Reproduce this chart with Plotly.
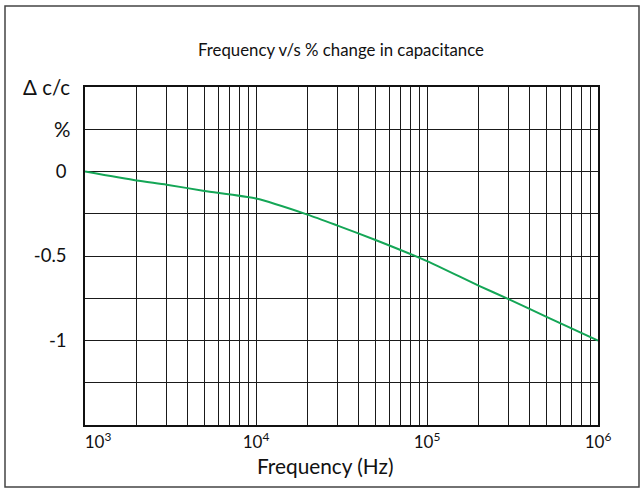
import plotly.graph_objects as go

# Data
freq_hz = [1e3, 2e3, 3e3, 5e3, 1e4, 2e4, 3e4, 5e4, 1e5, 2e5, 3e5, 5e5, 1e6]
delta_c_pct = [0.0, -0.053, -0.078, -0.115, -0.16, -0.255, -0.32, -0.405, -0.53, -0.675, -0.755, -0.86, -1.0]

decades = [3, 4, 5]
x_tickvals = [k * 10 ** d for d in decades for k in range(1, 10)] + [1e6]
NB = "\u00a0"
x_ticktext = []
for d in decades:
    for k in range(1, 10):
        if k == 1:
            lab = "10<sup>%d</sup>" % d
            if d == 3:
                lab = NB * 6 + lab
            x_ticktext.append(lab)
        else:
            x_ticktext.append("")
x_ticktext.append("10<sup>6</sup>")

y_tickvals = [0.5, 0.25, 0, -0.25, -0.5, -0.75, -1, -1.25, -1.5]
y_ticktext = ["", "", "0", "", "-0.5", "", "-1", "", ""]
y_unit_labels = ["Δ c/c", "%"]
y_unit_vals = [0.5, 0.25]

title_text = "Frequency v/s % change in capacitance"
x_title = "Frequency (Hz)"

FONT = "Lato, Calibri, Carlito, sans-serif"
W, H = 644, 492
L, R, T, B = 85, 598, 87, 425

fig = go.Figure()
fig.add_trace(go.Scatter(
    x=freq_hz, y=delta_c_pct, mode="lines",
    line=dict(color="#14a656", width=2, shape="spline", smoothing=0.6),
    hoverinfo="skip", showlegend=False,
))

fig.update_layout(
    width=W, height=H,
    margin=dict(l=L, r=W - R, t=T, b=H - B),
    paper_bgcolor="white", plot_bgcolor="white",
    font=dict(family=FONT, size=18, color="#111"),
    title=dict(text=title_text, x=341 / W, xref="container", xanchor="center",
               y=1 - 50 / H, yanchor="middle",
               font=dict(family=FONT, size=16.8, color="#111")),
    showlegend=False,
)

fig.update_xaxes(
    type="log", range=[3, 6],
    tickmode="array", tickvals=x_tickvals, ticktext=x_ticktext,
    showgrid=True, gridcolor="#1a1a1a", gridwidth=1.3,
    showline=True, linecolor="#111", linewidth=1.5, mirror=True,
    ticks="", ticklabelstandoff=1, zeroline=False,
    tickfont=dict(family=FONT, size=17, color="#111"),
)
fig.update_yaxes(
    range=[-1.5, 0.5],
    tickmode="array", tickvals=y_tickvals, ticktext=y_ticktext,
    showgrid=True, gridcolor="#1a1a1a", gridwidth=1.3,
    showline=True, linecolor="#111", linewidth=1.5, mirror=True,
    ticks="", ticklabelstandoff=13, zeroline=False,
    tickfont=dict(family=FONT, size=18.5, color="#111"),
)

for lab, v in zip(y_unit_labels, y_unit_vals):
    fig.add_annotation(
        text=lab, xref="paper", yref="y", x=-13 / (R - L), y=v,
        xanchor="right", yanchor="middle", showarrow=False,
        font=dict(family=FONT, size=20.5, color="#111"),
    )

fig.add_annotation(
    text=x_title, xref="paper", yref="paper",
    x=(325 - L) / (R - L), y=(B - 465) / (B - T),
    xanchor="center", yanchor="middle", showarrow=False,
    font=dict(family=FONT, size=20.8, color="#111"),
)

# outer frame around the whole picture
fig.add_shape(
    type="rect", xref="paper", yref="paper",
    x0=(5 - L) / (R - L), x1=(639 - L) / (R - L),
    y0=(B - 487) / (B - T), y1=(B - 6) / (B - T),
    line=dict(color="#444", width=1.5), fillcolor="rgba(0,0,0,0)", layer="below",
)

fig.write_html("out.html", config={"displayModeBar": False},
               post_script="document.body.style.margin='0px';")
